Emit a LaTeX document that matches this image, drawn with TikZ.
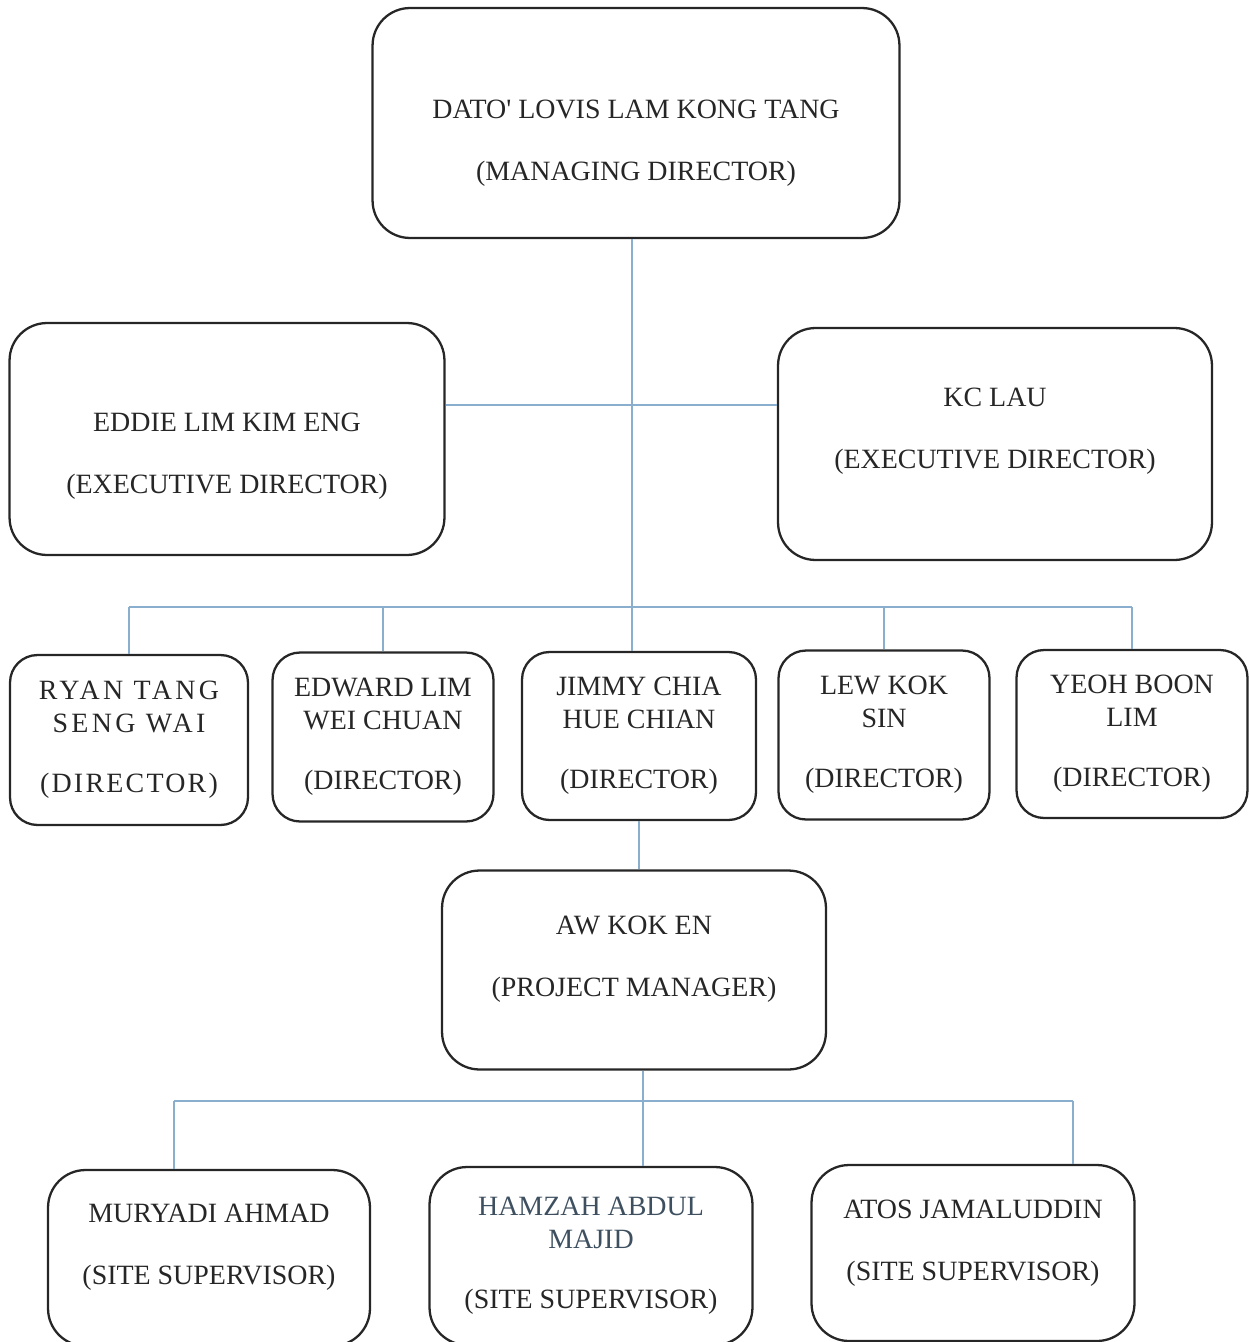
\documentclass[tikz,border=0pt]{standalone}
\usepackage{fontspec}
\setmainfont{Liberation Serif}
\definecolor{linkblue}{HTML}{8AAECD}
\definecolor{slate}{HTML}{3E5060}
\newcommand{\gap}{\\[16.6pt]}

\begin{document}
\begin{tikzpicture}[x=0.02cm,y=-0.02cm,
    box/.style={draw=black!85,line width=1.3pt,rounded corners=0.75cm,align=center,
      font=\fontsize{15.9}{18.6}\selectfont,text=black!85},
    smallbox/.style={box,rounded corners=0.55cm},
    txt/.style={align=center,font=\fontsize{15.9}{18.6}\selectfont,text=black!85,inner sep=0pt},
    link/.style={draw=linkblue,line width=0.6pt}]
    \useasboundingbox (0,0) rectangle (1249,1342);
    % top
    \node[box,minimum width=10.54cm,minimum height=4.6cm,
        label={[txt,yshift=-0.4cm]center:{DATO\textquotesingle{} LOVIS LAM KONG TANG\gap (MANAGING DIRECTOR)}}]
        (md) at (636,123) {};
    % executive directors
    \node[box,minimum width=8.7cm,minimum height=4.64cm,
        label={[txt,yshift=-0.34cm]center:{EDDIE LIM KIM ENG\gap (EXECUTIVE DIRECTOR)}}]
        (eddie) at (227,439) {};
    \node[box,minimum width=8.68cm,minimum height=4.64cm,
        label={[txt,yshift=0.26cm]center:{KC LAU\gap (EXECUTIVE DIRECTOR)}}]
        (kclau) at (995,444) {};
    % directors
    \node[smallbox,minimum width=4.76cm,minimum height=3.4cm] (ryan) at (129,740)
        {\addfontfeature{LetterSpace=12}RYAN TANG\\ \addfontfeature{LetterSpace=12}SENG WAI\\[15.5pt]
         \addfontfeature{LetterSpace=8}(DIRECTOR)};
    \node[smallbox,minimum width=4.42cm,minimum height=3.38cm] (edward) at (383,737)
        {EDWARD LIM\\ WEI CHUAN\\[15.5pt] (DIRECTOR)};
    \node[smallbox,minimum width=4.68cm,minimum height=3.36cm] (jimmy) at (639,736)
        {JIMMY CHIA\\ HUE CHIAN\\[15.5pt] (DIRECTOR)};
    \node[smallbox,minimum width=4.22cm,minimum height=3.38cm] (lew) at (884,735)
        {LEW KOK\\ SIN\\[15.5pt] (DIRECTOR)};
    \node[smallbox,minimum width=4.62cm,minimum height=3.36cm] (yeoh) at (1132,734)
        {YEOH BOON\\ LIM\\[15.5pt] (DIRECTOR)};
    % project manager
    \node[box,minimum width=7.68cm,minimum height=3.98cm,
        label={[txt,yshift=0.22cm]center:{AW KOK EN\gap (PROJECT MANAGER)}}]
        (aw) at (634,970) {};
    % site supervisors
    \node[box,minimum width=6.44cm,minimum height=3.52cm,
        label={[txt,yshift=0.22cm]center:{MURYADI AHMAD\gap (SITE SUPERVISOR)}}]
        (muryadi) at (209,1258) {};
    \node[box,minimum width=6.46cm,minimum height=3.56cm] (hamzah) at (591,1256)
        {\textcolor{slate}{HAMZAH ABDUL}\\ \textcolor{slate}{MAJID}\\[15.5pt] (SITE SUPERVISOR)};
    \node[box,minimum width=6.46cm,minimum height=3.52cm,
        label={[txt,yshift=0.2cm]center:{ATOS JAMALUDDIN\gap (SITE SUPERVISOR)}}]
        (atos) at (973,1253) {};

    % connectors
    \coordinate (dbus) at (632,607);
    \coordinate (sbusl) at (174,1101);
    \coordinate (sbusr) at (1073,1101);
    \draw[link] (md.south -| dbus) -- (dbus |- jimmy.north);
    \draw[link] (eddie.east |- 0,405) -- (kclau.west |- 0,405);
    \draw[link] (ryan.north |- dbus) -- (yeoh.north |- dbus);
    \foreach \n in {ryan,edward,lew,yeoh}
        \draw[link] (\n.north) -- (\n.north |- dbus);
    \draw[link] (jimmy.south) -- (jimmy.south |- aw.north);
    \draw[link] ([xshift=0.18cm]aw.south) -- ([xshift=0.18cm]aw.south |- hamzah.north);
    \draw[link] (sbusl) -- (sbusr);
    \draw[link] (sbusl) -- (sbusl |- muryadi.north);
    \draw[link] (sbusr) -- (sbusr |- atos.north);
\end{tikzpicture}
\end{document}
